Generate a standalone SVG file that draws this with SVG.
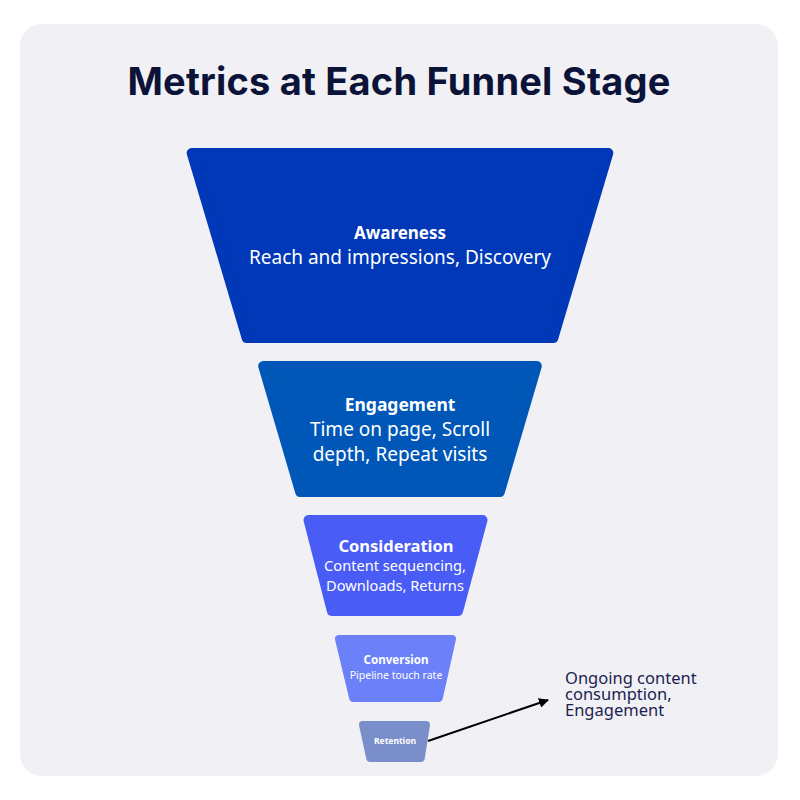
<svg xmlns="http://www.w3.org/2000/svg" width="800" height="800" viewBox="0 0 800 800">
<style>
.stage{stroke-linejoin:round}
.h{font-family:"Noto Sans","Liberation Sans",sans-serif;font-weight:bold;fill:#ffffff;text-anchor:middle}
.s{font-family:"Noto Sans","Liberation Sans",sans-serif;fill:#ffffff;text-anchor:middle}
</style>
<defs>
<marker id="arr" viewBox="0 0 10 10" refX="9" refY="5" markerWidth="5" markerHeight="5" orient="auto">
<path d="M0,0 L10,5 L0,10 z" fill="#000"/>
</marker>
</defs>
<rect x="0" y="0" width="800" height="800" fill="#ffffff"/>
<rect x="20" y="24" width="758" height="752" rx="22" fill="#f1f1f5"/>
<text x="399" y="95" text-anchor="middle" font-family="Inter,'Liberation Sans',sans-serif" font-weight="bold" font-size="38" letter-spacing="0.2" fill="#0b1438">Metrics at Each Funnel Stage</text>

<g id="awareness">
<polygon class="stage" points="191.7,153 608.3,153 553.3,338 246.7,338" fill="#0038b7" stroke="#0038b7" stroke-width="10"/>
<text class="h" x="400" y="239" font-size="17">Awareness</text>
<text class="s" x="400" y="264" font-size="19">Reach and impressions, Discovery</text>
</g>
<g id="engagement">
<polygon class="stage" points="263.2,366 536.8,366 499.8,492 300.2,492" fill="#0057b7" stroke="#0057b7" stroke-width="10"/>
<text class="h" x="400" y="411" font-size="17.5">Engagement</text>
<text class="s" x="400" y="436" font-size="19">Time on page, Scroll</text>
<text class="s" x="400" y="461" font-size="19">depth, Repeat visits</text>
</g>
<g id="consideration">
<polygon class="stage" points="308.5,520 482.5,520 458.1,611 331.9,611" fill="#4a5cf6" stroke="#4a5cf6" stroke-width="10"/>
<text class="h" x="396" y="552" font-size="16.5">Consideration</text>
<text class="s" x="395" y="571" font-size="14.6">Content sequencing,</text>
<text class="s" x="395" y="591" font-size="14.6">Downloads, Returns</text>
</g>
<g id="conversion">
<polygon class="stage" points="339,639 452,639 438.8,698 353.2,698" fill="#6c80fa" stroke="#6c80fa" stroke-width="8"/>
<text class="h" x="396" y="664" font-size="11.6">Conversion</text>
<text class="s" x="396" y="679" font-size="10.5">Pipeline touch rate</text>
</g>
<g id="retention">
<polygon class="stage" points="363,725 426,725 420.8,758 370.2,758" fill="#7a8ec9" stroke="#7a8ec9" stroke-width="8"/>
<text class="h" x="395" y="744" font-size="8.5">Retention</text>
</g>
<g id="connectors">
<line x1="428" y1="741" x2="548" y2="700" stroke="#000" stroke-width="2" marker-end="url(#arr)"/>
</g>
<g id="note">
<text font-family="'Noto Sans','Liberation Sans',sans-serif" font-size="16.5" fill="#1b1f4f">
<tspan x="565" y="684">Ongoing content</tspan>
<tspan x="565" y="700">consumption,</tspan>
<tspan x="565" y="716">Engagement</tspan>
</text>
</g>
</svg>
